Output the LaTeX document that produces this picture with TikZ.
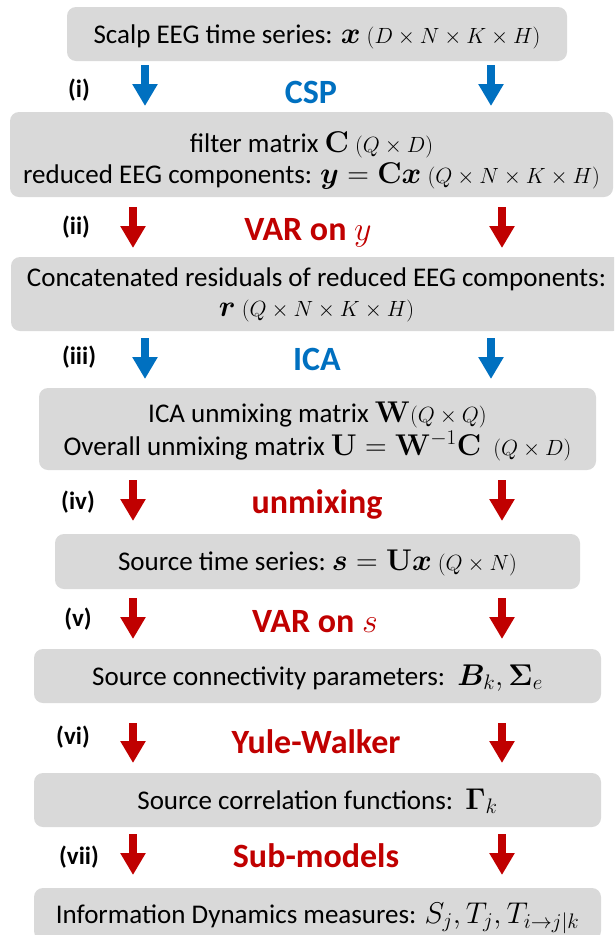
\RequirePackage{fix-cm}
\documentclass[tikz,border=0pt]{standalone}
\usepackage{amsmath}
\usepackage{bm}
\usepackage[no-math]{fontspec}
\setmainfont{Carlito}
\usetikzlibrary{arrows.meta}
\definecolor{boxgray}{HTML}{D9D9D9}
\definecolor{stepblue}{HTML}{0070C0}
\definecolor{stepred}{HTML}{C00000}
\newcommand{\dimsz}[1]{{\fontsize{22}{22}\selectfont$#1$}}
\newcommand{\mth}[1]{{\fontsize{30}{30}\selectfont$#1$}}
\tikzset{
  box/.style={fill=boxgray, rounded corners=9pt, inner sep=0pt, align=center,
    font=\fontsize{27}{31}\selectfont, text height=18pt, text depth=0pt},
  biglab/.style={font=\bfseries\fontsize{34}{34}\selectfont, anchor=base},
  steplab/.style={font=\bfseries\fontsize{25}{25}\selectfont, text=black},
  barrow/.style={line width=8pt, -{Triangle[width=24pt,length=22pt]}},
}
\begin{document}
\begin{tikzpicture}[x=1pt,y=-1pt]
\clip (0,0) rectangle (614,935);
% boxes
\node[box, minimum width=500pt, minimum height=54pt] (b1) at (317,34)
  {Scalp EEG time series: \mth{\bm{x}} \dimsz{(D\times N\times K\times H)}};
\node[box, minimum width=603pt, minimum height=85pt, text height=57pt,
  font=\fontsize{27}{31}\selectfont] (b2) at (311.5,154.5)
  {filter matrix \mth{\mathbf{C}} \dimsz{(Q\times D)}\\
   reduced EEG components: \mth{\bm{y}=\mathbf{C}\bm{x}}\ \dimsz{(Q\times N\times K\times H)}};
\node[box, minimum width=611pt, minimum height=74pt, text height=44pt,
  font=\fontsize{27}{30}\selectfont] (b3) at (316.5,294)
  {Concatenated residuals of reduced EEG components:\\
   \mth{\bm{r}}\ \dimsz{(Q\times N\times K\times H)}};
\node[box, minimum width=557pt, minimum height=82pt, text height=52pt,
  font=\fontsize{27}{33}\selectfont] (b4) at (317.5,429)
  {ICA unmixing matrix \mth{\mathbf{W}}\dimsz{(Q\times Q)}\\
   Overall unmixing matrix \mth{\mathbf{U}=\mathbf{W}^{-1}\mathbf{C}}\ \ \dimsz{(Q\times D)}};
\node[box, minimum width=525pt, minimum height=55pt] (b5) at (317.5,561.5)
  {Source time series:\ \mth{\bm{s}=\mathbf{U}\bm{x}}\ \dimsz{(Q\times N)}};
\node[box, minimum width=567pt, minimum height=54pt] (b6) at (317.5,676)
  {Source connectivity parameters:\ \ \mth{\bm{B}_k,\bm{\Sigma}_e}};
\node[box, minimum width=567pt, minimum height=54pt] (b7) at (317.5,800)
  {Source correlation functions:\ \ \mth{\bm{\Gamma}_k}};
\node[box, minimum width=567pt, minimum height=52pt] (b8) at (317.5,914)
  {Information Dynamics measures: \mth{S_j,T_j,T_{i\to j|k}}};
% step arrows
\foreach \n/\xl/\xr/\ys/\ye/\c in {1/145/491/65/106/stepblue,
    2/133/502/207/248/stepred, 3/145/491/338/379/stepblue,
    4/133/502/480/521/stepred, 5/133/502/598/639/stepred,
    6/133/502/723/763/stepred, 7/133/502/834/875/stepred}{
  \coordinate (a\n Ls) at (\xl,\ys);
  \coordinate (a\n Le) at (\xl,\ye);
  \coordinate (a\n Rs) at (\xr,\ys);
  \coordinate (a\n Re) at (\xr,\ye);
  \draw[barrow, draw=\c, fill=\c] (a\n Ls) -- (a\n Le);
  \draw[barrow, draw=\c, fill=\c] (a\n Rs) -- (a\n Re);
}
% step names
\node[biglab, text=stepblue] (l1) at (311,103) {CSP};
\node[biglab, text=stepred] (l2) at (308,240) {VAR on $y$};
\node[biglab, text=stepblue] (l3) at (317,370) {ICA};
\node[biglab, text=stepred] (l4) at (317,513) {unmixing};
\node[biglab, text=stepred] (l5) at (315,632) {VAR on $s$};
\node[biglab, text=stepred] (l6) at (316,753) {Yule-Walker};
\node[biglab, text=stepred] (l7) at (316,867) {Sub-models};
% step numbers
\node[steplab] (s1) at (79,90) {(i)};
\node[steplab] (s2) at (76,227) {(ii)};
\node[steplab] (s3) at (79,357) {(iii)};
\node[steplab] (s4) at (78,502) {(iv)};
\node[steplab] (s5) at (78,619) {(v)};
\node[steplab] (s6) at (73,737) {(vi)};
\node[steplab] (s7) at (79,857) {(vii)};
\end{tikzpicture}
\end{document}
